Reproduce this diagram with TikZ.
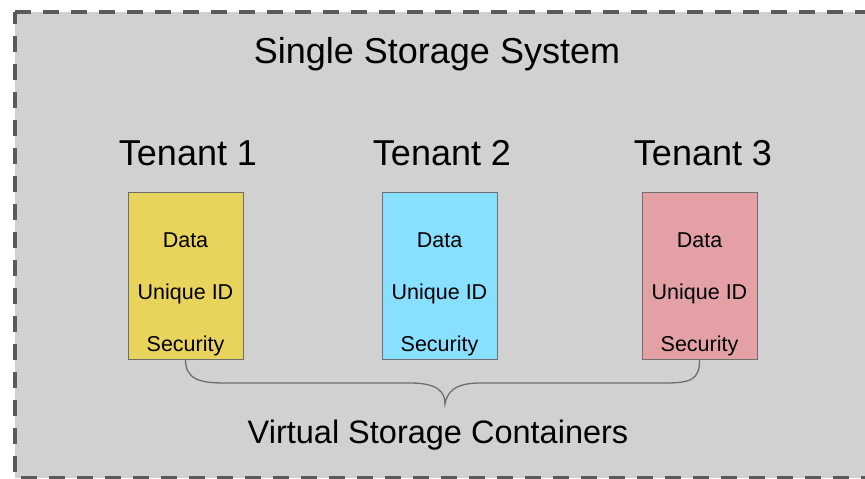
\documentclass[tikz,border=0pt]{standalone}
\usepackage{fontspec}
\setmainfont{Liberation Sans}
\definecolor{bgray}{HTML}{D1D1D1}
\definecolor{dashc}{HTML}{5A5A5A}
\definecolor{edgec}{HTML}{6E6E6E}
\definecolor{tyellow}{HTML}{E8D35C}
\definecolor{tblue}{HTML}{88DFFF}
\definecolor{tpink}{HTML}{E3A0A5}
\begin{document}
\begin{tikzpicture}[x=1pt,y=-1pt,
  container/.style={draw=edgec,line width=1pt,minimum width=115pt,minimum height=167pt,inner sep=0pt},
  item/.style={font=\fontsize{21.5}{24}\selectfont,inner sep=0pt},
  tenant/.style={font=\fontsize{36}{40}\selectfont,inner sep=0pt},
  bracec/.style={draw=edgec,line width=1.3pt}]
\useasboundingbox (0,0) rectangle (865,479);
\fill[white] (0,0) rectangle (865,479);
\draw[fill=bgray,draw=dashc,line width=4pt,dash pattern=on 16pt off 12pt,dash phase=4pt] (15,12) rectangle (885,478);
\node[tenant] (title) at (437,54) {Single Storage System};
\node[tenant] (n1) at (188,153) {Tenant 1};
\node[tenant] (n2) at (442,153) {Tenant 2};
\node[tenant] (n3) at (703,153) {Tenant 3};
\node[container,fill=tyellow] (t1) at (185.5,275.5) {};
\node[container,fill=tblue] (t2) at (439.5,275.5) {};
\node[container,fill=tpink] (t3) at (699.5,275.5) {};
\foreach \b in {t1,t2,t3}{
  \node[item] (\b d) at ([yshift=35.5pt]\b.center) {Data};
  \node[item] (\b u) at ([yshift=-18pt]\b.center) {Unique ID};
  \node[item] (\b s) at ([yshift=-70pt]\b.center) {Security};
}
\coordinate (tip) at (445,404);
\draw[bracec] (t1.south) .. controls ++(0,20) and (200,383) .. (225,383) -- (410,383)
  .. controls (438,383) and (445,392) .. (tip)
  .. controls (447,392) and (455,383) .. (480,383) -- (665,383)
  .. controls (690,383) and (700,380) .. (t3.south);
\node[font=\fontsize{32.5}{36}\selectfont,inner sep=0pt] (vsc) at (438,435) {Virtual Storage Containers};
\end{tikzpicture}
\end{document}
